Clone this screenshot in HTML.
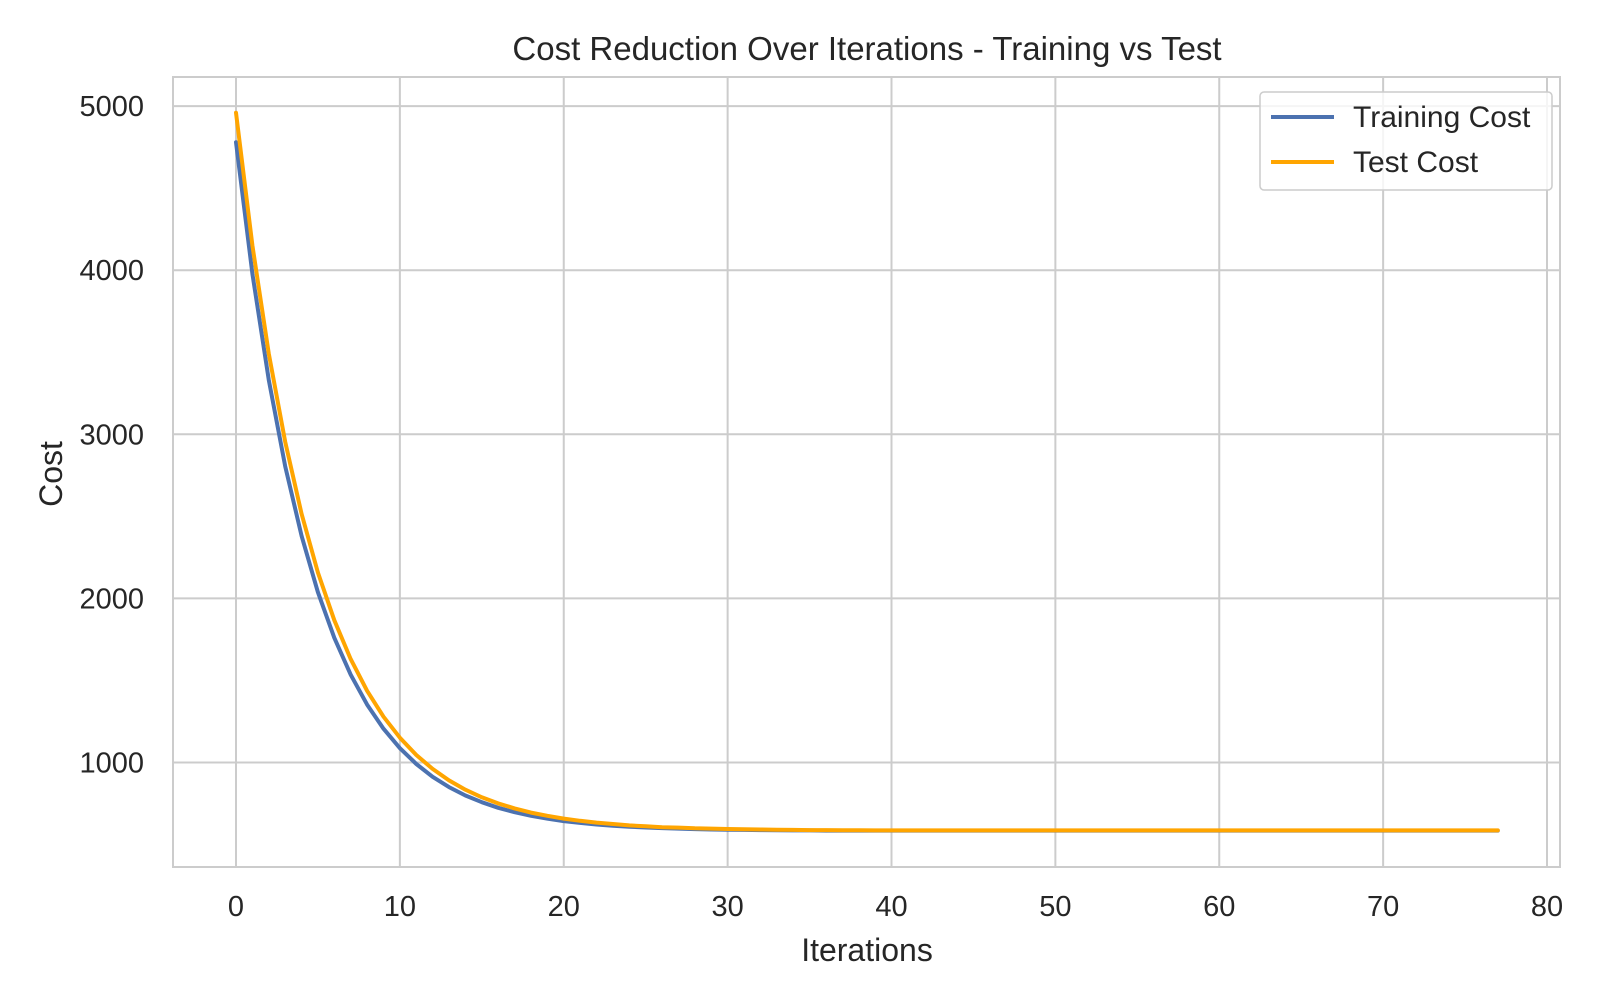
<!DOCTYPE html>
<html><head><meta charset="utf-8"><style>
html,body{margin:0;padding:0;background:#fff;}
svg{display:block;font-family:"Liberation Sans",Arial,sans-serif;}
</style></head><body>
<svg id="chart" width="1600" height="1000" viewBox="0 0 1600 1000">
<rect width="1600" height="1000" fill="#fff"/>
<g id="grid"></g>
<g id="ticks"></g>
<g id="lines"></g>
<rect x="173" y="77" width="1387" height="790" fill="none" stroke="#cccccc" stroke-width="2"/>
<text x="867" y="60" text-anchor="middle" font-size="33" fill="#262626">Cost Reduction Over Iterations - Training vs Test</text>
<text x="867" y="961" text-anchor="middle" font-size="32" fill="#262626">Iterations</text>
<text transform="translate(62,474) rotate(-90)" text-anchor="middle" font-size="32" fill="#262626">Cost</text>
<g>
<rect x="1260" y="92" width="292" height="98" rx="4" fill="#fff" fill-opacity="0.8" stroke="#cccccc" stroke-width="1.5"/>
<g>
<line x1="1271" y1="117" x2="1334" y2="117" stroke="#4c72b0" stroke-width="4"/>
<text x="1353" y="127" font-size="30" fill="#262626">Training Cost</text></g>
<g>
<line x1="1271" y1="162" x2="1334" y2="162" stroke="#ffa500" stroke-width="4"/>
<text x="1353" y="172" font-size="30" fill="#262626">Test Cost</text></g>
</g>
</svg>
<script>
const trainingCost=[4780,3978,3330,2805,2381,2038,1760,1535,1353,1206,1087,991,913,850,799,758,724,697,675,658,643,632,622,615,609,604,600,597,594,592,590,589,588,587,586,586,585,585,585,585,585,585,585,585,585,585,585,585,585,585,585,585,585,585,585,585,585,585,585,585,585,585,585,585,585,585,585,585,585,585,585,585,585,585,585,585,585,585];
const testCost=[4960,4151,3491,2954,2515,2158,1867,1630,1437,1279,1151,1046,961,891,834,788,751,720,695,675,658,645,634,625,617,611,606,603,599,597,595,593,592,590,589,588,588,587,587,586,586,586,586,586,586,586,586,586,586,586,586,586,586,586,586,586,586,586,586,586,586,586,586,586,586,586,586,586,586,586,586,586,586,586,586,586,586,586];
const xTicks=[0,10,20,30,40,50,60,70,80];
const yTicks=[1000,2000,3000,4000,5000];
const NS="http://www.w3.org/2000/svg";
const xs=v=>236+v*16.3875;
const ys=v=>762.5-(v-1000)*0.1641;
const grid=document.getElementById('grid'),ticks=document.getElementById('ticks'),lines=document.getElementById('lines');
function mk(tag,attrs,parent){const e=document.createElementNS(NS,tag);for(const k in attrs)e.setAttribute(k,attrs[k]);parent.appendChild(e);return e;}
xTicks.forEach(t=>{
  const l=mk('line',{x1:xs(t),x2:xs(t),y1:77,y2:867,stroke:'#cccccc','stroke-width':2},grid);
  
  
  const tx=mk('text',{x:xs(t),y:916,'text-anchor':'middle','font-size':29,fill:'#262626'},ticks);
  tx.textContent=t;
  
  
});
yTicks.forEach(t=>{
  const l=mk('line',{x1:173,x2:1560,y1:ys(t),y2:ys(t),stroke:'#cccccc','stroke-width':2},grid);
  
  
  const tx=mk('text',{x:144,y:ys(t)+10,'text-anchor':'end','font-size':29,fill:'#262626'},ticks);
  tx.textContent=t;
  
  
});
function path(data,color,name){
  const d=data.map((v,i)=>(i?'L':'M')+xs(i).toFixed(1)+','+ys(v).toFixed(1)).join(' ');
  const p=mk('path',{d:d,fill:'none',stroke:color,'stroke-width':4,'stroke-linejoin':'round','stroke-linecap':'round'},lines);
  
  
}
path(trainingCost,'#4c72b0','training-cost-line');
path(testCost,'#ffa500','test-cost-line');
</script>
</body></html>
